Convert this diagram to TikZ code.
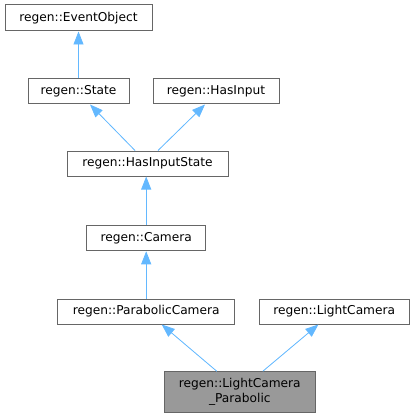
\documentclass[tikz,border=0pt]{standalone}
\usepackage{fontspec}
\setmainfont{DejaVu Sans}
\usetikzlibrary{arrows.meta}

\definecolor{edgeblue}{RGB}{99,184,255}
\definecolor{boxgray}{RGB}{102,102,102}
\definecolor{mainfill}{RGB}{153,153,153}

\begin{document}
\begin{tikzpicture}[
    x=1pt, y=-1pt,
    cls/.style={draw=boxgray, line width=1pt, fill=white, inner sep=0pt, align=center, font=\fontsize{12.2}{14.5}\selectfont},
    inh/.style={{Triangle[length=13pt,width=10pt]}-, draw=edgeblue, fill=edgeblue, line width=0.8pt}
]
\useasboundingbox (0,0) rectangle (415,417);
% classes
\node[cls, minimum width=147pt, minimum height=26pt] (eventobject) at (78.5,18) {regen::EventObject};
\node[cls, minimum width=101pt, minimum height=25pt] (state) at (78.5,91.5) {regen::State};
\node[cls, minimum width=126pt, minimum height=25pt] (hasinput) at (216,91.5) {regen::HasInput};
\node[cls, minimum width=161pt, minimum height=25pt] (hasinputstate) at (147.5,163.5) {regen::HasInputState};
\node[cls, minimum width=119pt, minimum height=25.5pt] (camera) at (146.2,238) {regen::Camera};
\node[cls, minimum width=177.5pt, minimum height=25pt] (paraboliccamera) at (146.2,311.5) {regen::ParabolicCamera};
\node[cls, minimum width=150pt, minimum height=25pt] (lightcamera) at (334.2,311.5) {regen::LightCamera};
\node[cls, fill=mainfill, minimum width=151pt, minimum height=40.5pt] (lcparabolic) at (239.8,392) {regen::LightCamera\\\_Parabolic};
% inheritance
\draw[inh] (eventobject.south) -- (state.north);
\draw[inh] ([xshift=11.5pt]state.south) -- ([xshift=-12.5pt]hasinputstate.north);
\draw[inh] ([xshift=-11pt]hasinput.south) -- ([xshift=10.5pt]hasinputstate.north);
\draw[inh] ([xshift=-1.3pt]hasinputstate.south) -- (camera.north);
\draw[inh] (camera.south) -- (paraboliccamera.north);
\draw[inh] ([xshift=15.5pt]paraboliccamera.south) -- ([xshift=-23pt]lcparabolic.north);
\draw[inh] ([xshift=-15.8pt]lightcamera.south) -- ([xshift=23pt]lcparabolic.north);
\end{tikzpicture}
\end{document}
